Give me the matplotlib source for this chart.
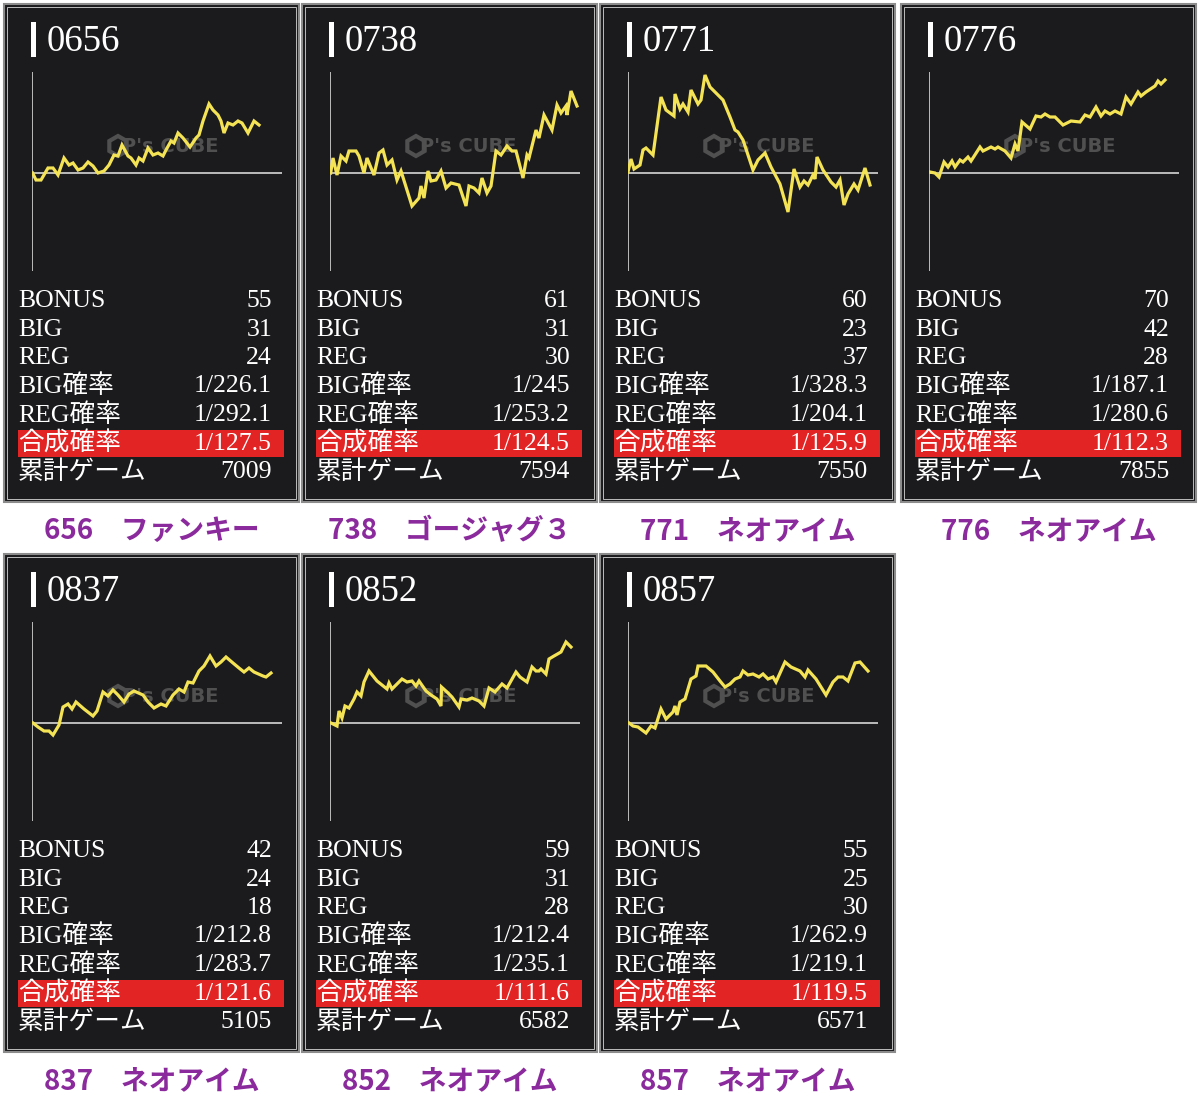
import matplotlib
matplotlib.use("Agg")
import matplotlib.pyplot as plt
from matplotlib.patches import Rectangle, RegularPolygon

# machine numbers, models
machines = ["0656", "0738", "0771", "0776", "0837", "0852", "0857"]
captions = ["656\u3000ファンキー", "738\u3000ゴージャグ３", "771\u3000ネオアイム", "776\u3000ネオアイム",
            "837\u3000ネオアイム", "852\u3000ネオアイム", "857\u3000ネオアイム"]

# stats table
row_labels = ["BONUS", "BIG", "REG", "BIG確率", "REG確率", "合成確率", "累計ゲーム"]
bonus = ["55", "61", "60", "70", "42", "59", "55"]
big = ["31", "31", "23", "42", "24", "31", "25"]
reg = ["24", "30", "37", "28", "18", "28", "30"]
big_rate = ["1/226.1", "1/245", "1/328.3", "1/187.1", "1/212.8", "1/212.4", "1/262.9"]
reg_rate = ["1/292.1", "1/253.2", "1/204.1", "1/280.6", "1/283.7", "1/235.1", "1/219.1"]
total_rate = ["1/127.5", "1/124.5", "1/125.9", "1/112.3", "1/121.6", "1/111.6", "1/119.5"]
games = ["7009", "7594", "7550", "7855", "5105", "6582", "6571"]

# slump graphs (x: progress, y: difference)
s656_x = [0.6, 4, 9, 16, 21, 26, 32, 37, 41, 46, 51, 56, 61, 66, 72, 77, 82, 86, 90, 96, 99, 104, 107, 111,
          116, 121, 126, 131, 134, 139, 142, 146, 151, 158, 164, 167, 171, 177, 181, 186, 189, 192, 196,
          201, 206, 210, 216, 222, 227]
s656_y = [0, -7, -7, 5, 5, -2, 15, 8, 10, 3, 5, 11, 7, 0, 2, 8, 18, 17, 28, 17, 15, 8, 15, 12,
          25, 18, 20, 17, 23, 32, 30, 40, 35, 26, 35, 38, 52, 69, 63, 58, 52, 40, 50,
          48, 52, 50, 40, 52, 48]

s738_x = [0.7, 3, 7, 11, 16, 19, 26, 29, 34, 37, 44, 49, 53, 57, 62, 67, 71, 82, 89, 91, 94, 98, 101, 106,
          111, 116, 121, 129, 136, 139, 144, 149, 152, 157, 161, 166, 171, 177, 182, 186, 193, 197, 199,
          206, 209, 214, 222, 227, 231, 236, 237, 241, 247]
s738_y = [0, 15, -2, 17, 12, 22, 22, 17, 0, 15, -2, 20, 23, 8, 13, -7, 2, -33, -25, -13, -25, 2, -8, -7,
          2, -15, -10, -12, -33, -13, -15, -20, -5, -20, -13, 22, 18, 27, 22, 22, -5, 18, 15,
          43, 35, 58, 43, 68, 60, 67, 58, 82, 67]

s771_x = [0, 3, 6, 12, 15, 18, 25, 33, 38, 46, 47, 52, 55, 60, 63, 70, 73, 77, 82, 88, 95, 102, 107, 110,
          115, 125, 130, 137, 143, 152, 160, 166, 172, 176, 180, 185, 187, 189, 195, 203, 208, 212, 216,
          220, 226, 230, 237, 242]
s771_y = [1, 14, 4, 8, 23, 25, 18, 76, 63, 57, 79, 64, 69, 61, 83, 69, 73, 98, 86, 80, 73, 56, 43, 41,
          33, 3, 13, 20, 6, -11, -39, 4, -14, -8, -12, -2, -6, 16, 3, -9, -14, -7, -32,
          -21, -11, -17, 5, -12]

s776_x = [1, 6, 10, 15, 19, 23, 26, 31, 34, 39, 42, 51, 54, 62, 66, 69, 76, 82, 86, 89, 93, 101, 107, 112,
          116, 121, 126, 134, 142, 151, 156, 161, 167, 172, 176, 181, 186, 192, 197, 202, 209, 212, 217,
          226, 229, 232, 236]
s776_y = [1, 0, -4, 11, 6, 12, 6, 13, 11, 16, 12, 26, 22, 26, 24, 26, 22, 15, 29, 22, 51, 44, 57, 56,
          59, 56, 56, 48, 52, 51, 58, 56, 66, 57, 62, 59, 62, 59, 76, 69, 81, 77, 81,
          87, 92, 89, 93]

s837_x = [1, 6, 12, 17, 21, 27, 31, 36, 40, 44, 52, 61, 65, 71, 76, 81, 86, 92, 97, 102, 111, 116, 122, 129,
          134, 141, 147, 152, 156, 161, 167, 172, 178, 184, 189, 194, 201, 207, 212, 217, 222, 231, 234, 239]
s837_y = [0, -4, -8, -8, -12, -2, 16, 19, 14, 21, 14, 7, 12, 31, 27, 33, 28, 21, 29, 32, 28, 21, 15, 19,
          17, 28, 34, 31, 41, 40, 52, 57, 67, 57, 61, 66, 60, 55, 51, 55, 51, 47, 46, 50]

s852_x = [1, 7, 9, 12, 15, 19, 24, 27, 31, 34, 39, 47, 57, 59, 62, 72, 77, 82, 86, 89, 96, 101, 107, 111,
          111.5, 117, 122, 129, 131, 137, 142, 149, 154, 159, 165, 172, 177, 186, 190, 197, 202, 206, 209,
          211, 216, 219, 224, 231, 236, 241]
s852_y = [0, -3, 12, 5, 17, 15, 24, 31, 27, 41, 52, 42, 34, 40, 34, 44, 41, 42, 37, 42, 32, 28, 24, 17,
          36, 31, 26, 16, 24, 23, 25, 22, 17, 35, 31, 39, 35, 51, 46, 41, 56, 52, 52,
          54, 49, 64, 67, 71, 81, 76]

s857_x = [1, 5, 10, 18, 23, 27, 33, 38, 45, 47, 49, 52, 57, 63, 68, 70, 75, 78, 85, 92, 97, 102, 107, 112,
          115, 120, 125, 131, 135, 140, 145, 148, 157, 163, 172, 177, 180, 188, 198, 205, 210, 215, 220,
          227, 232, 240]
s857_y = [0, -3, -4, -10, -3, -5, 14, 4, 11, 17, 8, 21, 24, 44, 47, 57, 57, 57, 51, 42, 36, 39, 44, 46,
          52, 48, 49, 46, 49, 44, 46, 41, 61, 56, 52, 46, 53, 44, 28, 41, 46, 46, 42,
          60, 61, 52]

series_x = [s656_x, s738_x, s771_x, s776_x, s837_x, s852_x, s857_x]
series_y = [s656_y, s738_y, s771_y, s776_y, s837_y, s852_y, s857_y]

W, H = 1200, 1105
SERIF = ["Liberation Serif", "Noto Sans CJK JP"]
PANEL_BG = "#1b1a1d"
LINE_YELLOW = "#f4e354"
AXIS_GRAY = "#c9c9c9"
HIGHLIGHT = "#e22424"
PURPLE = "#8a2a9c"
MARK_GRAY = "#505050"

col_left = [4, 302, 600, 901]
row_top = [4, 554]
pw, ph = 295, 498

fig = plt.figure(figsize=(W / 100, H / 100), dpi=100)
fig.patch.set_facecolor("white")
bg = fig.add_axes([0, 0, 1, 1])
bg.set_xlim(0, W)
bg.set_ylim(H, 0)
bg.axis("off")


def fig_box(x0, y0, x1, y1):
    # pixel box (top-left origin) -> figure fraction rect
    return [x0 / W, 1 - y1 / H, (x1 - x0) / W, (y1 - y0) / H]


for i, name in enumerate(machines):
    left = col_left[i % 4]
    top = row_top[i // 4]

    # frame with double border
    bg.add_patch(Rectangle((left, top), pw, ph, facecolor=PANEL_BG, edgecolor="#8c8c8c", lw=1.5))
    bg.add_patch(Rectangle((left + 3, top + 3), pw - 6, ph - 6, facecolor="none", edgecolor="#bdbdbd", lw=0.7))

    # title
    bg.add_patch(Rectangle((left + 27, top + 18), 4.5, 35, facecolor="white", edgecolor="none"))
    bg.text(left + 43, top + 38, name, color="white", fontsize=26.5, family=SERIF, va="center", ha="left")

    # watermark
    bg.add_patch(RegularPolygon((left + 114, top + 142), 6, radius=10, facecolor="none",
                                edgecolor=MARK_GRAY, lw=3, zorder=1))
    bg.text(left + 166, top + 142, "P's CUBE", color=MARK_GRAY, fontsize=14, fontweight="bold",
            ha="center", va="center", zorder=1)

    # stats rows
    vals = [bonus[i], big[i], reg[i], big_rate[i], reg_rate[i], total_rate[i], games[i]]
    for r, (lab, v) in enumerate(zip(row_labels, vals)):
        yc = top + 297 + r * 28.5
        if lab == "合成確率":
            bg.add_patch(Rectangle((left + 14, yc - 13.5), 266, 27, facecolor=HIGHLIGHT, edgecolor="none"))
        bg.text(left + 14, yc, lab, color="white", fontsize=18.5, family=SERIF, va="center", ha="left")
        bg.text(left + 268, yc, v, color="white", fontsize=18.5, family=SERIF, va="center", ha="right")

    # caption
    bg.text(left + pw / 2, top + ph + 29, captions[i], color=PURPLE, fontsize=20, fontweight="bold",
            family=["Noto Sans CJK JP", "DejaVu Sans"], ha="center", va="center")

    # slump graph
    ax = fig.add_axes(fig_box(left + 28, top + 68, left + 278, top + 267))
    ax.set_xlim(0, 250)
    ax.set_ylim(-98, 101)
    ax.axis("off")
    ax.patch.set_alpha(0)
    ax.axhline(0, color=AXIS_GRAY, lw=1.3)
    ax.axvline(0, color=AXIS_GRAY, lw=1.3)
    ax.plot(series_x[i], series_y[i], color=LINE_YELLOW, lw=2.3, solid_joinstyle="miter")

fig.savefig("out.png", dpi=100, facecolor="white")
